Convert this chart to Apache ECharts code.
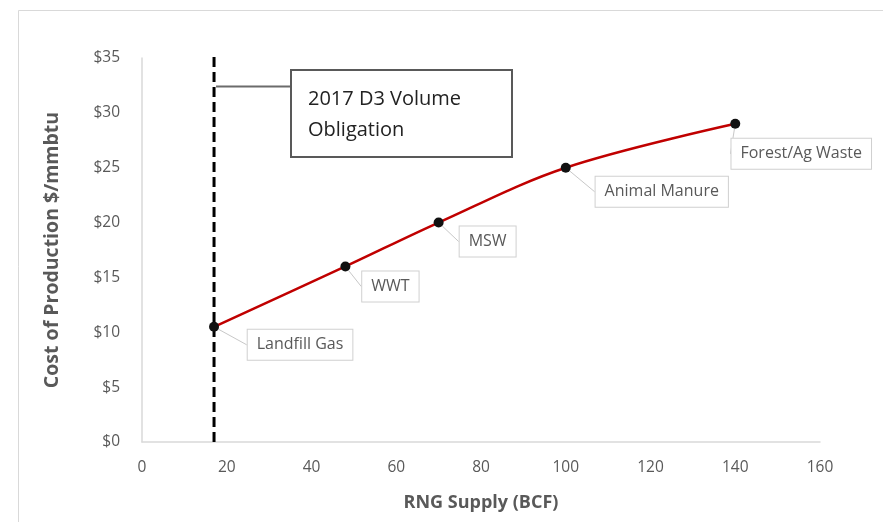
<!DOCTYPE html>
<html>
<head>
<meta charset="utf-8">
<script src="https://cdn.jsdelivr.net/npm/echarts@6/dist/echarts.min.js"></script>
<style>
  html, body { margin: 0; padding: 0; background: #fff; }
  #chart { width: 883px; height: 522px; }
</style>
</head>
<body>
<div id="chart"></div>
<script>
// Supply curve: cumulative RNG supply (BCF) vs. cost of production ($/mmbtu)
const sources = ['Landfill Gas', 'WWT', 'MSW', 'Animal Manure', 'Forest/Ag Waste'];
const supplyBCF = [17, 48, 70, 100, 140];
const costPerMmbtu = [10.5, 16, 20, 25, 29];
const obligationBCF = 17;
const xTicks = [0, 20, 40, 60, 80, 100, 120, 140, 160];
const yTicks = [0, 5, 10, 15, 20, 25, 30, 35];

// callout offsets (px) of each source label from its point
const calloutOffsets = [[86, 18], [45, 20], [49, 19], [96, 24], [66, 30]];

const chart = echarts.init(document.getElementById('chart'), null, { renderer: 'canvas' });
const FONT = '"Open Sans", "Noto Sans", sans-serif';

const option = {
  backgroundColor: '#ffffff',
  animation: false,
  grid: { left: 142, right: 63, top: 58, bottom: 80 },
  xAxis: {
    type: 'value',
    min: xTicks[0], max: xTicks[xTicks.length - 1], interval: 20,
    name: 'RNG Supply (BCF)',
    nameLocation: 'middle', nameGap: 52,
    nameTextStyle: { fontFamily: FONT, fontWeight: 'bold', fontSize: 18, color: '#595959' },
    axisLine: { show: true, lineStyle: { color: '#d9d9d9', width: 1.5 } },
    axisTick: { show: false },
    splitLine: { show: false },
    axisLabel: { fontFamily: FONT, fontSize: 15.5, color: '#595959', margin: 18 }
  },
  yAxis: {
    type: 'value',
    min: yTicks[0], max: yTicks[yTicks.length - 1], interval: 5,
    name: 'Cost of Production $/mmbtu',
    nameLocation: 'middle', nameGap: 80,
    nameTextStyle: { fontFamily: FONT, fontWeight: 'bold', fontSize: 19.5, color: '#595959' },
    axisLine: { show: true, lineStyle: { color: '#d9d9d9', width: 1.5 } },
    axisTick: { show: false },
    splitLine: { show: false },
    axisLabel: { fontFamily: FONT, fontSize: 15.5, color: '#595959', margin: 22,
                 formatter: v => '$' + v }
  },
  series: [
    {
      type: 'line',
      name: 'Supply curve',
      data: supplyBCF.map((x, i) => ({ value: [x, costPerMmbtu[i]], name: sources[i] })),
      smooth: 0.35,
      symbol: 'circle',
      symbolSize: 10,
      itemStyle: { color: '#111111' },
      lineStyle: { color: '#c00000', width: 2.5 },
      z: 5,
      label: {
        show: true,
        position: 'inside',
        formatter: p => p.name,
        fontFamily: FONT, fontSize: 16, color: '#595959',
        backgroundColor: '#ffffff',
        borderColor: '#d0d0d0', borderWidth: 1,
        padding: [8, 9, 6, 9]
      },
      labelLine: { show: true, lineStyle: { color: '#c8c8c8', width: 1 } },
      labelLayout: p => ({
        dx: calloutOffsets[p.dataIndex][0],
        dy: calloutOffsets[p.dataIndex][1]
      })
    },
    {
      type: 'line',
      name: '2017 D3 Volume Obligation',
      data: [[obligationBCF, 0], [obligationBCF, 35.3]],
      symbol: 'none',
      clip: false,
      lineStyle: { color: '#000000', width: 3, type: [10, 5] },
      z: 4
    }
  ]
};
chart.setOption(option);

// Annotation box for the volume obligation, connected to the dashed line
const anchor = chart.convertToPixel({ gridIndex: 0 }, [obligationBCF, 32.4]);
const boxLeft = 291, boxTop = 70, boxW = 221, boxH = 87;
chart.setOption({
  graphic: [
    { type: 'rect', shape: { x: 18.5, y: 10.5, width: 900, height: 600 },
      style: { fill: 'none', stroke: '#d9d9d9', lineWidth: 1 }, silent: true, z: 0 },
    { type: 'line', shape: { x1: anchor[0] + 2, y1: anchor[1], x2: boxLeft, y2: anchor[1] },
      style: { stroke: '#6b6b6b', lineWidth: 2 }, z: 10 },
    { type: 'rect', shape: { x: boxLeft, y: boxTop, width: boxW, height: boxH },
      style: { fill: '#ffffff', stroke: '#595959', lineWidth: 2 }, z: 10 },
    { type: 'text', x: boxLeft + 17, y: boxTop + 14, z: 11,
      style: { text: '2017 D3 Volume\nObligation', fill: '#222222',
               font: '20px "Open Sans", "Noto Sans", sans-serif', lineHeight: 31 } }
  ]
});
</script>
</body>
</html>
